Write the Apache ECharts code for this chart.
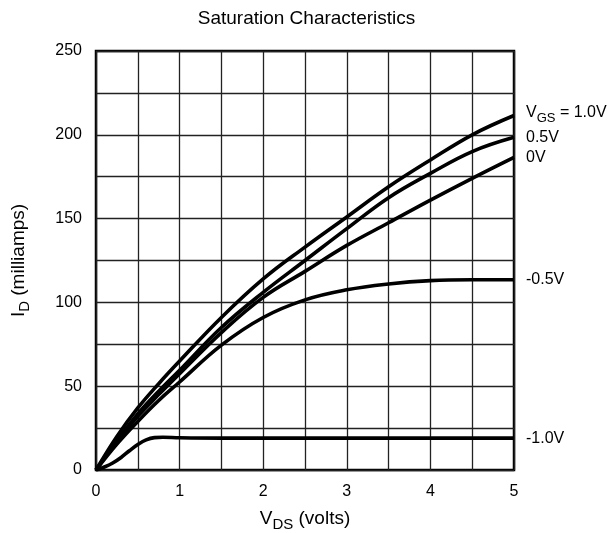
<!DOCTYPE html>
<html>
<head>
<meta charset="utf-8">
<script src="https://cdn.jsdelivr.net/npm/echarts@6/dist/echarts.min.js"></script>
<style>
html,body{margin:0;padding:0;background:#fff;}
#c{width:613px;height:533px;}
</style>
</head>
<body>
<div id="c"></div>
<script>
// V_DS sample points (volts)
const vds = [0, 0.25, 0.5, 0.75, 1, 1.5, 2, 2.5, 3, 3.5, 4, 4.5, 5];
// I_D (milliamps) per V_GS curve
const idVgsP10 = [0, 20, 37, 51.5, 65, 91, 114, 133, 151, 169, 185, 200, 211.5];
const idVgsP05 = [0, 17.5, 33.5, 47, 59.5, 85, 106, 125, 144, 162.5, 177, 190, 198.5];
const idVgs0 = [0, 17, 32, 45, 57.5, 82, 103, 118.5, 134, 147.5, 161, 174, 186.5];
const idVgsM05 = [0, 15.5, 29, 41.5, 52.5, 74.5, 91, 101.5, 107.5, 111, 113, 113.5, 113.5];
// the -1.0V curve saturates early, sampled more finely
const vdsLow = [0, 0.1, 0.2, 0.3, 0.4, 0.5, 0.6, 0.7, 0.8, 1, 1.5, 2, 3, 4, 5];
const idVgsM10 = [0, 1.8, 4.2, 7.5, 11.5, 15.2, 18, 19.3, 19.5, 19.2, 19, 19, 19, 19, 19];

const curveLabels = ['{n|V}{s|GS}{n| = 1.0V}', '{m|0.5V}', '{m|0V}', '{m|-0.5V}', '{m|-1.0V}'];
const labelDy = [-1, 0, 0, 0, 0];

const xTicks = [0, 1, 2, 3, 4, 5];
const yTicks = [0, 50, 100, 150, 200, 250];

const FONT = 'Liberation Sans, Arial, Helvetica, sans-serif';

function pairs(xs, ys) { return xs.map((x, i) => [x, ys[i]]); }

const seriesData = [
  pairs(vds, idVgsP10),
  pairs(vds, idVgsP05),
  pairs(vds, idVgs0),
  pairs(vds, idVgsM05),
  pairs(vdsLow, idVgsM10)
];

const richLabel = {
  n: { fontSize: 16, fontFamily: FONT, color: '#000', verticalAlign: 'top', lineHeight: 20 },
  s: { fontSize: 13, fontFamily: FONT, color: '#000', verticalAlign: 'bottom', lineHeight: 13 },
  m: { fontSize: 16, fontFamily: FONT, color: '#000', lineHeight: 18 }
};
const richName = {
  n: { fontSize: 19, fontFamily: FONT, color: '#000', verticalAlign: 'top', lineHeight: 23 },
  s: { fontSize: 15, fontFamily: FONT, color: '#000', verticalAlign: 'bottom', lineHeight: 15 }
};

const chart = echarts.init(document.getElementById('c'), null, { renderer: 'canvas' });
chart.setOption({
  animation: false,
  backgroundColor: '#fff',
  title: {
    text: 'Saturation Characteristics',
    left: 'center',
    top: 4,
    textStyle: { fontSize: 19, fontWeight: 'normal', color: '#000', fontFamily: FONT }
  },
  grid: {
    left: 96, right: 99, top: 51, bottom: 63,
    outerBoundsMode: 'none',
    containLabel: false,
    show: true, borderColor: '#000', borderWidth: 2.5, backgroundColor: 'transparent'
  },
  xAxis: {
    type: 'value', min: xTicks[0], max: xTicks[xTicks.length - 1], interval: 1,
    axisLine: { show: false },
    axisTick: { show: false },
    axisLabel: { fontSize: 16, color: '#000', fontFamily: FONT, margin: 14 },
    splitLine: { show: true, lineStyle: { color: '#222', width: 1.3 } },
    minorSplitLine: { show: true, lineStyle: { color: '#222', width: 1.3 } },
    minorTick: { show: false, splitNumber: 2 },
    name: '{n|V}{s|DS}{n| (volts)}',
    nameLocation: 'middle',
    nameGap: 39,
    nameTextStyle: { rich: richName }
  },
  yAxis: {
    type: 'value', min: yTicks[0], max: yTicks[yTicks.length - 1], interval: 50,
    axisLine: { show: false },
    axisTick: { show: false },
    axisLabel: { fontSize: 16, color: '#000', fontFamily: FONT, margin: 14 },
    splitLine: { show: true, lineStyle: { color: '#222', width: 1.3 } },
    minorSplitLine: { show: true, lineStyle: { color: '#222', width: 1.3 } },
    minorTick: { show: false, splitNumber: 2 },
    name: '{n|I}{s|D}{n| (milliamps)}',
    nameLocation: 'middle',
    nameGap: 64,
    nameRotate: 90,
    nameTextStyle: { rich: richName }
  },
  series: seriesData.map((d, i) => ({
    type: 'line',
    data: d,
    smooth: 0.4,
    showSymbol: false,
    symbol: 'none',
    clip: true,
    lineStyle: { color: '#000', width: 3.6 },
    endLabel: {
      show: true,
      formatter: curveLabels[i],
      distance: 12,
      offset: [0, labelDy[i]],
      rich: richLabel
    },
    emphasis: { disabled: true },
    z: 5
  }))
});
</script>
</body>
</html>
